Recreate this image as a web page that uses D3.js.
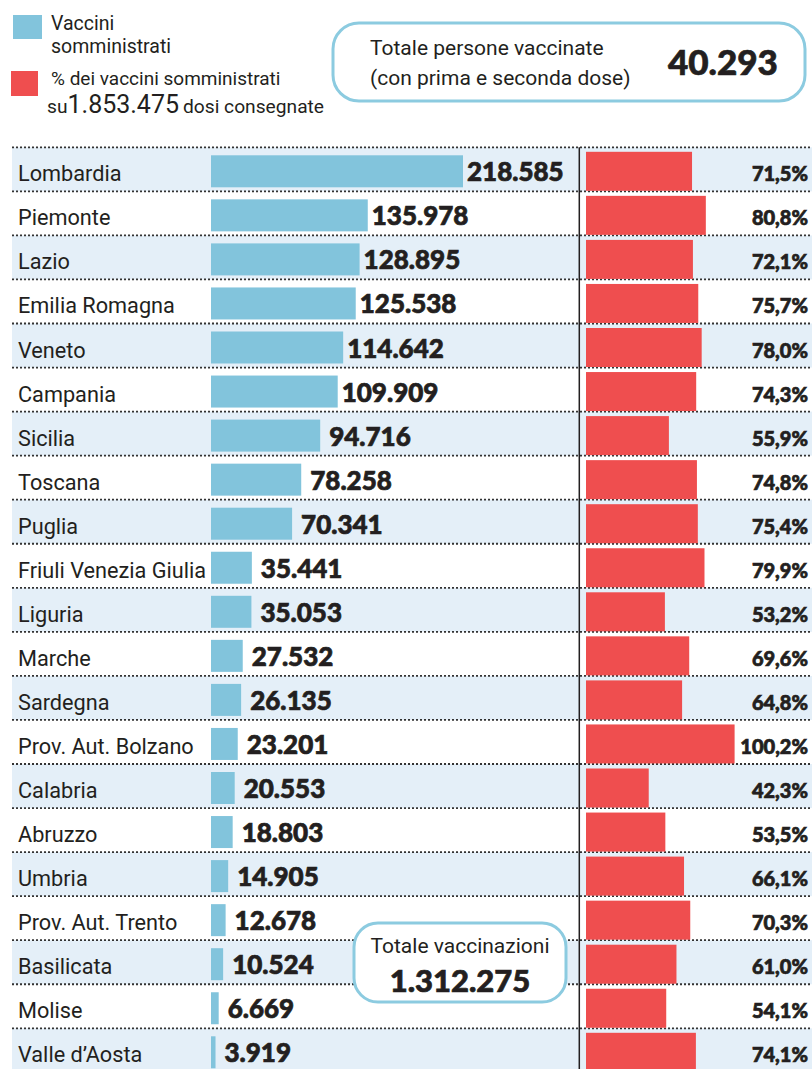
<!DOCTYPE html>
<html><head><meta charset="utf-8">
<script src="https://cdn.jsdelivr.net/npm/d3@7/dist/d3.min.js"></script>
<style>
html,body{margin:0;padding:0;background:#fff;}
svg{display:block;}
.heavy{font-family:"Lato Black",Lato,sans-serif;font-weight:900;stroke:#231f20;stroke-width:0.7px;paint-order:stroke;}
</style></head>
<body>
<svg id="chart" width="812" height="1069"></svg>
<script>
const regions = ["Lombardia","Piemonte","Lazio","Emilia Romagna","Veneto","Campania","Sicilia","Toscana","Puglia","Friuli Venezia Giulia","Liguria","Marche","Sardegna","Prov. Aut. Bolzano","Calabria","Abruzzo","Umbria","Prov. Aut. Trento","Basilicata","Molise","Valle d\u2019Aosta"];
const administered = [218585,135978,128895,125538,114642,109909,94716,78258,70341,35441,35053,27532,26135,23201,20553,18803,14905,12678,10524,6669,3919];
const pctOfDelivered = [71.5,80.8,72.1,75.7,78.0,74.3,55.9,74.8,75.4,79.9,53.2,69.6,64.8,100.2,42.3,53.5,66.1,70.3,61.0,54.1,74.1];
const dosesDelivered = 1853475;
const totalVaccinated = 40293;
const totalVaccinations = 1312275;

const BLUE = "#82c4dc", RED = "#ef4e4f", SHADE = "#e4eff8", INK = "#231f20", BOX = "#8ccbe0";
const svg = d3.select("#chart");
const fmtInt = v => d3.format(",")(v).replace(/,/g, ".");
const fmtPct = v => v.toFixed(1).replace(".", ",") + "%";

const rowTop = 147.3, rowH = 44.05;
const y = d3.scaleBand().domain(regions).range([rowTop, rowTop + rowH * regions.length]).padding(0);
const xBlue = d3.scaleLinear().domain([0, 218585]).range([211, 463]);
const xRed = d3.scaleLinear().domain([0, 100]).range([586, 734.3]);

const rows = svg.append("g");
rows.selectAll("rect.shade").data(regions.filter((d,i)=>i%2===0)).join("rect")
  .attr("x", 12).attr("width", 800).attr("y", d => y(d)).attr("height", y.bandwidth())
  .attr("fill", SHADE);
rows.selectAll("line.dot").data(regions).join("line")
  .attr("x1", 12).attr("x2", 812).attr("y1", d => y(d)).attr("y2", d => y(d))
  .attr("stroke", "#333").attr("stroke-width", 1.8).attr("stroke-dasharray", "2,2");
svg.append("line").attr("x1", 579.3).attr("x2", 579.3).attr("y1", rowTop).attr("y2", 1069)
  .attr("stroke", INK).attr("stroke-width", 1.5);

const data = regions.map((r,i)=>({r, v: administered[i], p: pctOfDelivered[i]}));

svg.append("g").selectAll("text").data(data).join("text")
  .attr("x", 18).attr("y", d => y(d.r) + 34)
  .attr("font-family", "Roboto").attr("font-size", 21.7).attr("fill", INK)
  .text(d => d.r);
svg.append("g").selectAll("rect").data(data).join("rect")
  .attr("x", xBlue(0)).attr("y", d => y(d.r) + 8)
  .attr("width", d => xBlue(d.v) - xBlue(0)).attr("height", 32).attr("fill", BLUE);
svg.append("g").selectAll("text").data(data).join("text")
  .attr("class", "heavy")
  .attr("x", d => xBlue(d.v) + (d.v > 100000 ? 4 : 9)).attr("y", d => y(d.r) + 34)
  .attr("font-size", 26).attr("fill", INK)
  .text(d => fmtInt(d.v));
svg.append("g").selectAll("rect").data(data).join("rect")
  .attr("x", xRed(0)).attr("y", d => y(d.r) + 4.5)
  .attr("width", d => xRed(d.p) - xRed(0)).attr("height", 39).attr("fill", RED);
svg.append("g").selectAll("text").data(data).join("text")
  .attr("class", "heavy")
  .attr("x", 808).attr("y", d => y(d.r) + 34).attr("text-anchor", "end")
  .attr("font-size", 20).attr("fill", INK)
  .text(d => fmtPct(d.p));

const lg = svg.append("g").attr("font-family", "Roboto").attr("fill", INK);
lg.append("rect").attr("x", 13).attr("y", 15).attr("width", 29).attr("height", 24).attr("fill", BLUE);
lg.append("rect").attr("x", 11).attr("y", 71).attr("width", 27).attr("height", 25).attr("fill", RED);
lg.append("text").attr("x", 51).attr("y", 30).attr("font-size", 19.5).text("Vaccini");
lg.append("text").attr("x", 51).attr("y", 53).attr("font-size", 19.5).text("somministrati");
lg.append("text").attr("x", 51).attr("y", 84.5).attr("font-size", 19).text("% dei vaccini somministrati");
const t3 = lg.append("text").attr("x", 47).attr("y", 112.5).attr("font-size", 19.2);
t3.append("tspan").text("su");
t3.append("tspan").attr("font-size", 25).text(fmtInt(dosesDelivered));
t3.append("tspan").attr("dx", 4).text("dosi consegnate");

svg.append("rect").attr("x", 333).attr("y", 23).attr("width", 472).attr("height", 78).attr("rx", 26)
  .attr("fill", "#fff").attr("stroke", BOX).attr("stroke-width", 3);
svg.append("text").attr("x", 370).attr("y", 55).attr("font-family", "Roboto").attr("font-size", 21).attr("fill", INK)
  .text("Totale persone vaccinate");
svg.append("text").attr("x", 370).attr("y", 85).attr("font-family", "Roboto").attr("font-size", 21).attr("fill", INK)
  .text("(con prima e seconda dose)");
svg.append("text").attr("class", "heavy").attr("x", 668).attr("y", 75).attr("font-size", 35).attr("fill", INK)
  .text(fmtInt(totalVaccinated));

svg.append("rect").attr("x", 354).attr("y", 923).attr("width", 212).attr("height", 79).attr("rx", 24)
  .attr("fill", "#fff").attr("stroke", BOX).attr("stroke-width", 3);
svg.append("text").attr("x", 460).attr("y", 953).attr("text-anchor", "middle").attr("font-family", "Roboto").attr("font-size", 21).attr("fill", INK)
  .text("Totale vaccinazioni");
svg.append("text").attr("class", "heavy").attr("x", 460).attr("y", 992).attr("text-anchor", "middle").attr("font-size", 31).attr("fill", INK)
  .text(fmtInt(totalVaccinations));
</script>
</body></html>
